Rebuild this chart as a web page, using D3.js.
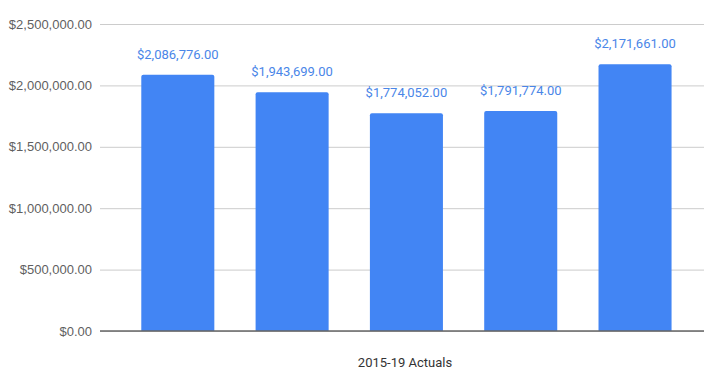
<!DOCTYPE html>
<html>
<head>
<meta charset="utf-8">
<script src="https://cdn.jsdelivr.net/npm/d3@7"></script>
<style>
  html, body { margin: 0; padding: 0; background: #ffffff; }
  svg { display: block; font-family: Roboto, "Noto Sans", Arial, sans-serif; }
</style>
</head>
<body>
<svg id="chart" width="704" height="372"></svg>
<script>
// Yearly actuals, one bar per year
const categories = ["2015", "2016", "2017", "2018", "2019"];
const values = [2086776, 1943699, 1774052, 1791774, 2171661];
const yTicks = [0, 500000, 1000000, 1500000, 2000000, 2500000];
const xAxisTitle = "2015-19 Actuals";

const svg = d3.select("#chart");
const plot = { left: 100, right: 704, top: 24, bottom: 331 };

const x = d3.scaleBand()
  .domain(categories)
  .range([plot.left, plot.right])
  .paddingInner(0.361)
  .paddingOuter(0.3225)
  .align(0.56);

const y = d3.scaleLinear()
  .domain([0, 2500000])
  .range([plot.bottom, plot.top]);

const money = v => "$" + d3.format(",.2f")(v);

// Horizontal gridlines with dollar labels
const yAxis = d3.axisLeft(y)
  .tickValues(yTicks)
  .tickFormat(money)
  .tickSize(-(plot.right - plot.left))
  .tickPadding(8);

const gy = svg.append("g")
  .attr("transform", `translate(${plot.left},0)`)
  .call(yAxis);
gy.select(".domain").remove();
gy.selectAll(".tick line")
  .attr("stroke", "#cccccc")
  .attr("stroke-width", 1);
gy.selectAll(".tick text")
  .attr("fill", "#5f5f5f")
  .style("font-size", "13px");

// Bars with slightly rounded tops
const r = 2;
svg.append("g")
  .selectAll("path")
  .data(values)
  .join("path")
  .attr("fill", "#4285f4")
  .attr("d", (d, i) => {
    const x0 = x(categories[i]), x1 = x0 + x.bandwidth();
    const yt = y(d), yb = y(0);
    return `M${x0},${yb}V${yt + r}Q${x0},${yt} ${x0 + r},${yt}H${x1 - r}Q${x1},${yt} ${x1},${yt + r}V${yb}Z`;
  });

// Baseline
svg.append("line")
  .attr("x1", plot.left).attr("x2", plot.right)
  .attr("y1", y(0)).attr("y2", y(0))
  .attr("stroke", "#666666")
  .attr("stroke-width", 1.5);

// Value labels above each bar
svg.append("g")
  .selectAll("text")
  .data(values)
  .join("text")
  .attr("x", (d, i) => x(categories[i]) + x.bandwidth() / 2)
  .attr("y", d => y(d) - 16)
  .attr("text-anchor", "middle")
  .attr("fill", "#4a86e8")
  .style("font-size", "13px")
  .text(d => money(d));

// Axis title
svg.append("text")
  .attr("x", 405)
  .attr("y", 367)
  .attr("text-anchor", "middle")
  .attr("fill", "#333333")
  .style("font-size", "13px")
  .text(xAxisTitle);
</script>
</body>
</html>
